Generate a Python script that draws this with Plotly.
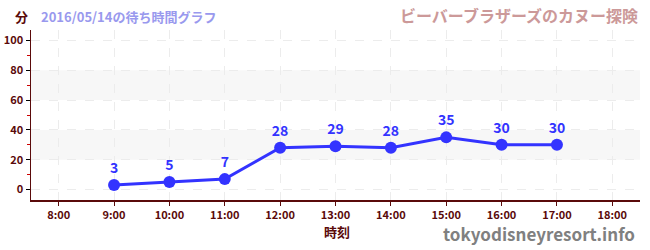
import plotly.graph_objects as go

hours = [9, 10, 11, 12, 13, 14, 15, 16, 17]
waits = [3, 5, 7, 28, 29, 28, 35, 30, 30]
tick_hours = [8, 9, 10, 11, 12, 13, 14, 15, 16, 17, 18]
tick_labels = ["8:00", "9:00", "10:00", "11:00", "12:00", "13:00", "14:00", "15:00", "16:00", "17:00", "18:00"]
y_ticks = [0, 20, 40, 60, 80, 100]
bands = [(20, 40), (60, 80)]

FONT = "Noto Sans CJK JP"
AXIS = "#5a0a0a"
LINE = "#3333ff"

W, H = 650, 250
ML, MR, MT, MB = 31, 10, 30, 50

fig = go.Figure()
fig.add_trace(go.Scatter(
    x=hours, y=waits, mode="lines+markers+text",
    text=[str(v) for v in waits], textposition="top center",
    textfont=dict(family=FONT, size=14, color=LINE, weight="bold"),
    line=dict(color=LINE, width=3),
    marker=dict(color=LINE, size=12),
    cliponaxis=False, hoverinfo="skip",
))

shapes = []
for y0, y1 in bands:
    shapes.append(dict(type="rect", xref="paper", yref="y", x0=0, x1=1, y0=y0, y1=y1,
                       fillcolor="#f7f7f7", line=dict(width=0), layer="below"))

pw = W - ML - MR
ph = H - MT - MB
def px(xp):
    return (xp - ML) / pw
def py(yp):
    return (H - MB - yp) / ph

fig.update_layout(
    width=W, height=H,
    margin=dict(l=ML, r=MR, t=MT, b=MB, autoexpand=False),
    paper_bgcolor="white", plot_bgcolor="white",
    showlegend=False,
    shapes=shapes,
    font=dict(family=FONT, color=AXIS),
    xaxis=dict(
        range=[7.5, 18.5], tickmode="array", tickvals=tick_hours, ticktext=tick_labels,
        showline=True, linecolor=AXIS, linewidth=1.5,
        ticks="outside", tickcolor=AXIS, ticklen=4,
        tickfont=dict(family=FONT, size=11, color=AXIS, weight="bold"),
        showgrid=True, gridcolor="#ececec", griddash="dash", gridwidth=1,
        zeroline=False, fixedrange=True, automargin=False,
    ),
    yaxis=dict(
        range=[-7, 107], tickmode="array", tickvals=y_ticks,
        showline=True, linecolor=AXIS, linewidth=1.5,
        ticks="outside", tickcolor="black", ticklen=4,
        tickfont=dict(family=FONT, size=11, color=AXIS, weight="bold"),
        showgrid=True, gridcolor="#ececec", griddash="dash", gridwidth=1,
        minor=dict(tickvals=[10, 30, 50, 70, 90], ticks="outside", tickcolor="#cc0000", ticklen=3, showgrid=False),
        zeroline=False, fixedrange=True, automargin=False,
    ),
    annotations=[
        dict(text="<b>分</b>", xref="paper", yref="paper", x=px(13), y=py(16),
             xanchor="left", yanchor="middle", showarrow=False,
             font=dict(family=FONT, size=13, color=AXIS)),
        dict(text="<b>2016/05/14の待ち時間グラフ</b>", xref="paper", yref="paper", x=px(39), y=py(16),
             xanchor="left", yanchor="middle", showarrow=False,
             font=dict(family=FONT, size=13, color="#9999ee")),
        dict(text="<b>ビーバーブラザーズのカヌー探険</b>", xref="paper", yref="paper", x=px(640), y=py(15),
             xanchor="right", yanchor="middle", showarrow=False,
             font=dict(family=FONT, size=16, color="#cc9999")),
        dict(text="<b>時刻</b>", xref="paper", yref="paper", x=px(337), y=py(231),
             xanchor="center", yanchor="middle", showarrow=False,
             font=dict(family=FONT, size=13, color=AXIS)),
        dict(text="<b>tokyodisneyresort.info</b>", xref="paper", yref="paper", x=px(637), y=py(233),
             xanchor="right", yanchor="middle", showarrow=False,
             font=dict(family=FONT, size=17, color="#808080")),
    ],
)

fig.write_html("out.html", config={"displayModeBar": False, "staticPlot": True},
               post_script="document.body.style.margin='0';document.body.style.overflow='hidden';")
